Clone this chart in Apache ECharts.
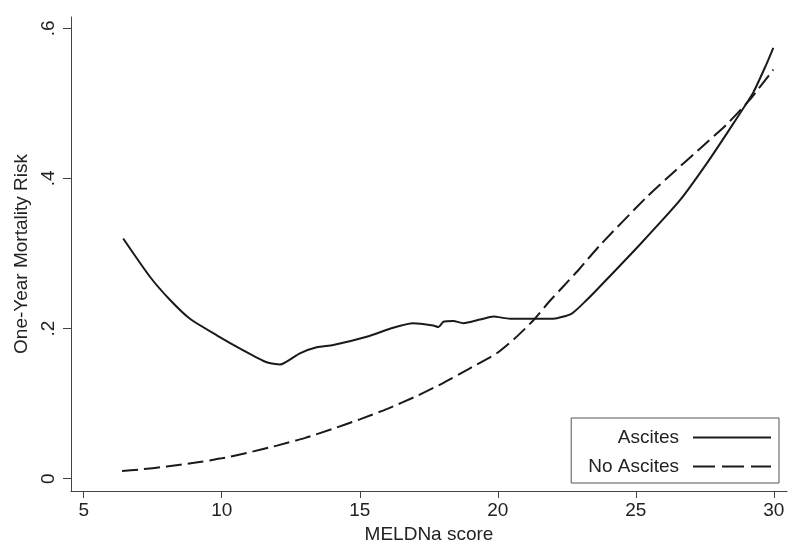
<!DOCTYPE html>
<html>
<head>
<meta charset="utf-8">
<script src="https://cdn.jsdelivr.net/npm/echarts@6/dist/echarts.min.js"></script>
<style>
html,body{margin:0;padding:0;background:#fff;}
#chart{width:800px;height:549px;}
</style>
</head>
<body>
<div id="chart"></div>
<script>
// MELDNa score (x) and one-year mortality risk (y)
const ascitesX = [6.43, 7.40, 8.13, 8.85, 9.82, 10.78, 11.63, 12.11, 12.83, 13.44, 14.04, 15.25, 16.21, 16.94, 17.66, 17.85, 18.03, 18.39, 18.75, 19.36, 19.84, 20.44, 21.29, 22.01, 22.68, 23.22, 23.70, 25.15, 26.60, 27.57, 28.53, 29.26, 29.74, 29.98];
const ascitesY = [0.320, 0.269, 0.238, 0.213, 0.191, 0.171, 0.155, 0.152, 0.167, 0.175, 0.178, 0.189, 0.201, 0.207, 0.204, 0.202, 0.209, 0.210, 0.207, 0.212, 0.216, 0.213, 0.213, 0.213, 0.220, 0.238, 0.256, 0.312, 0.371, 0.420, 0.473, 0.515, 0.553, 0.574];

const noAscitesX = [6.39, 7, 8, 9, 10, 11, 12, 13, 14, 15, 16, 17, 18, 18.99, 19.96, 20.62, 21.29, 21.89, 22.37, 22.97, 23.70, 25.39, 26.36, 27.33, 28.29, 29.13, 29.98];
const noAscitesY = [0.010, 0.012, 0.016, 0.021, 0.027, 0.035, 0.044, 0.054, 0.066, 0.079, 0.093, 0.109, 0.127, 0.147, 0.167, 0.187, 0.211, 0.237, 0.256, 0.280, 0.311, 0.375, 0.408, 0.440, 0.472, 0.505, 0.545];

const xTicks = [5, 10, 15, 20, 25, 30];
const yTicks = [0, 0.2, 0.4, 0.6];
const seriesNames = ['Ascites', 'No Ascites'];

const toPairs = (xs, ys) => xs.map((x, i) => [x, ys[i]]);

const font = 'Liberation Sans, Arial, sans-serif';
const fs = 19;
const txt = '#222';
const lineCol = '#1a1a1a';
const axisCol = '#444';

const chart = echarts.init(document.getElementById('chart'), null, {renderer: 'canvas'});
chart.setOption({
  backgroundColor: '#fff',
  animation: false,
  grid: {left: 71, right: 13, top: 17, bottom: 58},
  xAxis: {
    type: 'value',
    min: 4.54, max: 30.476,
    name: 'MELDNa score',
    nameLocation: 'middle',
    nameGap: 27,
    nameTextStyle: {fontFamily: font, fontSize: fs, color: txt},
    axisLine: {show: true, onZero: false, lineStyle: {color: axisCol, width: 1}},
    axisTick: {show: true, length: 7, customValues: xTicks, lineStyle: {color: axisCol}},
    axisLabel: {customValues: xTicks, margin: 10, fontFamily: font, fontSize: fs, color: txt},
    splitLine: {show: false}
  },
  yAxis: {
    type: 'value',
    min: -0.0165, max: 0.6151,
    name: 'One-Year Mortality Risk',
    nameLocation: 'middle',
    nameGap: 32,
    nameTextStyle: {fontFamily: font, fontSize: fs, color: txt},
    axisLine: {show: true, onZero: false, lineStyle: {color: axisCol, width: 1}},
    axisTick: {show: true, length: 8, customValues: yTicks, lineStyle: {color: axisCol}},
    axisLabel: {
      customValues: yTicks, rotate: 90, margin: 13,
      fontFamily: font, fontSize: fs, color: txt,
      formatter: v => (v === 0 ? '0' : String(Math.round(v * 10) / 10).replace(/^0\./, '.'))
    },
    splitLine: {show: false}
  },
  legend: {
    data: [
      {name: seriesNames[0], lineStyle: {type: 'solid'}},
      {name: seriesNames[1], lineStyle: {type: [22, 7]}}
    ],
    orient: 'vertical',
    align: 'right',
    right: 21,
    top: 418,
    itemWidth: 78,
    itemHeight: 14,
    itemGap: 10,
    padding: [10, 7, 7, 17],
    borderColor: '#555',
    borderWidth: 1,
    backgroundColor: '#fff',
    itemStyle: {opacity: 0, borderWidth: 0},
    textStyle: {fontFamily: font, fontSize: fs, color: txt, padding: [0, 9, 0, 0]},
    selectedMode: false
  },
  series: [
    {
      name: seriesNames[0],
      type: 'line',
      data: toPairs(ascitesX, ascitesY),
      symbol: 'none',
      smooth: 0.2,
      lineStyle: {color: lineCol, width: 2, type: 'solid'},
      itemStyle: {color: lineCol}
    },
    {
      name: seriesNames[1],
      type: 'line',
      data: toPairs(noAscitesX, noAscitesY),
      symbol: 'none',
      smooth: 0.2,
      lineStyle: {color: lineCol, width: 2, type: [16, 6]},
      itemStyle: {color: lineCol}
    }
  ]
});
</script>
</body>
</html>
